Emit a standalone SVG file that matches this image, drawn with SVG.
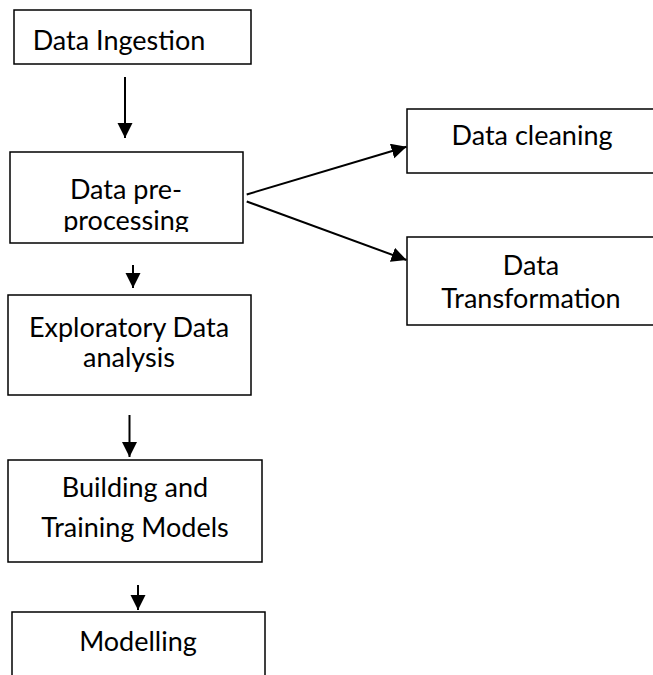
<svg xmlns="http://www.w3.org/2000/svg" width="653" height="675" viewBox="0 0 653 675">
<style>
.box{fill:#fff;stroke:#000;stroke-width:1.5}
.lbl{font-family:Lato,"Open Sans","Liberation Sans",sans-serif;font-size:27px;fill:#000;text-anchor:middle}
.con{stroke:#000;stroke-width:2;fill:none;marker-end:url(#ah)}
</style>
<defs>
<marker id="ah" markerUnits="userSpaceOnUse" markerWidth="16" markerHeight="16" refX="15" refY="7.5" orient="auto">
<path d="M0,0 L15,7.5 L0,15 Z" fill="#000"/>
</marker>
<clipPath id="clip2"><rect x="10" y="152" width="233" height="80"/></clipPath>
</defs>
<rect width="653" height="675" fill="#fff"/>
<g id="n1">
<rect class="box" x="14" y="10" width="237" height="54"/>
<text class="lbl" x="119" y="50">Data Ingestion</text>
</g>
<g id="n2">
<rect class="box" x="10" y="152" width="233" height="91"/>
<g clip-path="url(#clip2)">
<text class="lbl" x="126" y="199">Data pre-</text>
<text class="lbl" x="126" y="230">processing</text>
</g>
</g>
<g id="n3">
<rect class="box" x="8" y="295" width="243" height="100"/>
<text class="lbl" x="129" y="337">Exploratory Data</text>
<text class="lbl" x="129" y="367">analysis</text>
</g>
<g id="n4">
<rect class="box" x="8" y="460" width="254" height="102"/>
<text class="lbl" x="135" y="497">Building and</text>
<text class="lbl" x="135" y="537">Training Models</text>
</g>
<g id="n5">
<rect class="box" x="12" y="612" width="253" height="80"/>
<text class="lbl" x="138" y="651">Modelling</text>
</g>
<g id="n6">
<rect class="box" x="407" y="109" width="260" height="64"/>
<text class="lbl" x="532" y="145">Data cleaning</text>
</g>
<g id="n7">
<rect class="box" x="407" y="237" width="260" height="88"/>
<text class="lbl" x="531" y="275">Data</text>
<text class="lbl" x="531" y="308">Transformation</text>
</g>
<g id="connectors">
<line class="con" x1="125" y1="77" x2="125" y2="138"/>
<line class="con" x1="133" y1="265" x2="133" y2="288"/>
<line class="con" x1="129.5" y1="415" x2="129.5" y2="457"/>
<line class="con" x1="138" y1="585" x2="138" y2="610"/>
<line class="con" x1="246.7" y1="194.5" x2="406.5" y2="146.7"/>
<line class="con" x1="246.7" y1="201.5" x2="406.5" y2="260"/>
</g>
</svg>
